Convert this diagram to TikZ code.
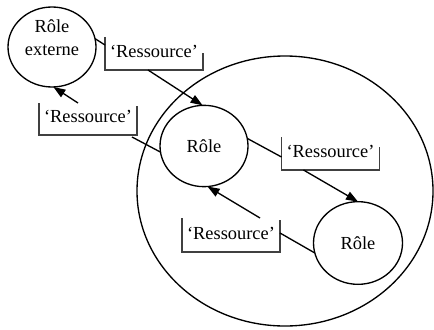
\documentclass[tikz,border=0pt]{standalone}
\usepackage{fontspec}
\setmainfont{Liberation Serif}
\usetikzlibrary{shapes.geometric, arrows.meta, positioning, calc}

\begin{document}
\begin{tikzpicture}[
  x=0.75pt, y=0.75pt,
  role/.style={ellipse, draw, line width=1pt, inner sep=0pt, outer sep=0pt,
    minimum width=66pt, minimum height=61pt, align=center,
    font=\fontsize{13.8}{17}\selectfont},
  orgabox/.style={ellipse, draw, line width=1pt, inner sep=0pt, outer sep=0pt,
    minimum width=222pt, minimum height=202.5pt},
  res/.style={anchor=south, inner sep=0pt, outer sep=0pt,
    minimum width=73.5pt, minimum height=28.5pt,
    font=\fontsize{13.8}{16}\selectfont},
  bracket/.style={draw=black!75, line width=0.8pt},
  arrow/.style={-{Triangle[length=9pt, width=6.5pt]}, line width=1pt},
  link/.style={line width=1pt}
]
\useasboundingbox (0,0) rectangle (434,329);
\node[orgabox] (orga) at (285,138) {};
\node[role, minimum height=60pt] (ext) at (52,282) {Rôle\\externe\\[-3pt]};
\node[role] (r1) at (204,183) {Rôle};
\node[role, minimum width=66.75pt, minimum height=62pt] (r2) at (358,86) {Rôle};
\node[res] (b1) at (154,259) {‘Ressource’};
\node[res] (b2) at (88,194) {‘Ressource’};
\node[res] (b3) at (330.5,159) {‘Ressource’};
\node[res] (b4) at (231,77) {‘Ressource’};
\draw[bracket] ($(b1.south west)+(0,33)$) |- (b1.south east) -- ++(0,17);
\draw[bracket] ($(b2.south west)+(0,32)$) |- (b2.south east) -- ++(0,29);
\draw[bracket] ($(b3.south west)+(0,33)$) |- (b3.south east) -- ++(0,23);
\draw[bracket] ($(b4.south west)+(0,34)$) |- (b4.south east) -- ++(0,32);
\draw[link] (ext.11) -- ($(b1.south west)+(0,25)$);
\draw[arrow] ($(b1.south)+(-6,0)$) -- (r1.92);
\draw[arrow] ($(b2.south)+(-10,32)$) -- (ext.-88);
\draw[link] ($(b2.south east)+(-5,-2)$) -- (r1.188);
\draw[link] (r1.10) -- ($(b3.south west)+(0,13)$);
\draw[arrow] ($(b3.south west)+(22,0)$) -- (r2.north);
\draw[arrow] ($(b4.south west)+(78,34)$) -- (r1.-85);
\draw[link] (b4.east) -- (r2.193);
\end{tikzpicture}
\end{document}
